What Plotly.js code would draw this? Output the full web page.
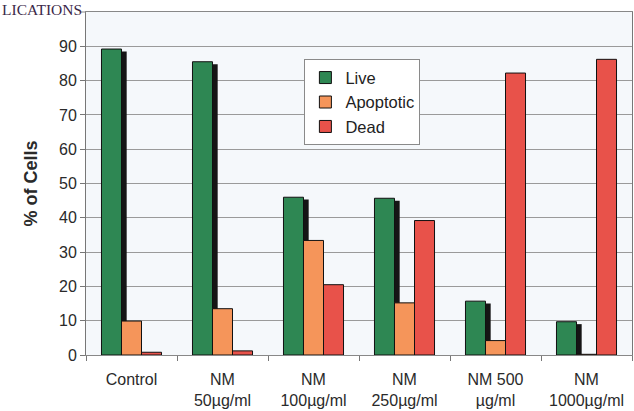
<!DOCTYPE html>
<html>
<head>
<meta charset="utf-8">
<script src="https://cdn.plot.ly/plotly-3.0.1.min.js"></script>
<style>html,body{margin:0;padding:0;background:#fff;}#chart{width:634px;height:411px;}</style>
</head>
<body>
<div id="chart"></div>
<script>
var categories = ["Control", "NM<br>50µg/ml", "NM<br>100µg/ml", "NM<br>250µg/ml", "NM 500<br>µg/ml", "NM<br>1000µg/ml"];
var live = [89.2, 85.5, 46.0, 45.7, 15.7, 9.7];
var apoptotic = [9.9, 13.5, 33.4, 15.2, 4.2, 0.2];
var dead = [0.8, 1.2, 20.5, 39.2, 82.2, 86.2];
var seriesNames = ["Live", "Apoptotic", "Dead"];
var yTicks = [0, 10, 20, 30, 40, 50, 60, 70, 80, 90];

var W = 0.22;
var line = {color: "#111", width: 1};
var traces = [
  {type: "bar", x: categories, y: live, base: -0.7, offset: -0.33 + 0.057, width: W,
   marker: {color: "#151515", line: {width: 0}}, showlegend: false, hoverinfo: "skip"},
  {type: "bar", name: seriesNames[0], x: categories, y: live, offset: -0.33, width: W,
   marker: {color: "#2e8753", line: line}},
  {type: "bar", name: seriesNames[1], x: categories, y: apoptotic, offset: -0.11, width: W,
   marker: {color: "#f5955a", line: line}},
  {type: "bar", name: seriesNames[2], x: categories, y: dead, offset: 0.11, width: W,
   marker: {color: "#e8524a", line: line}}
];

var layout = {
  width: 634, height: 411,
  margin: {l: 86, r: 2, t: 12, b: 56},
  paper_bgcolor: "#ffffff",
  plot_bgcolor: "#f5f8fb",
  barmode: "overlay",
  font: {family: "Liberation Sans, Arial, sans-serif", size: 15, color: "#2a2a2a"},
  showlegend: true,
  legend: {x: 0.4, y: 0.862, xanchor: "left", yanchor: "top",
           bgcolor: "#ffffff", bordercolor: "#8a8a8a", borderwidth: 1,
           font: {size: 16.5, color: "#222"}, traceorder: "normal",
           itemwidth: 30, tracegroupgap: 5},
  xaxis: {type: "category", tickson: "boundaries", ticks: "outside", ticklen: 5,
          tickcolor: "#777", showline: true, linecolor: "#888", linewidth: 1,
          mirror: true, showgrid: false, tickfont: {size: 16, color: "#2a2a2a"},
          ticklabelstandoff: 10, range: [-0.5, 5.5]},
  yaxis: {range: [0, 100], tickvals: yTicks, ticks: "outside", ticklen: 5,
          tickcolor: "#777", showline: true, linecolor: "#777", linewidth: 1,
          mirror: true, showgrid: true, gridcolor: "#9a9a9a", gridwidth: 1,
          zeroline: false, tickfont: {size: 16, color: "#2a2a2a"},
          title: {text: "<b>% of Cells</b>", font: {size: 18, color: "#2a2a2a"}, standoff: 16}},
  annotations: [
    {text: "LICATIONS", xref: "paper", yref: "paper", x: -0.158, y: 1.008,
     xanchor: "left", yanchor: "middle", showarrow: false,
     font: {family: "Liberation Serif, Times New Roman, serif", size: 15.5, color: "#3b2848"}}
  ],
  shapes: [
    {type: "line", xref: "paper", yref: "paper", x0: -0.012, x1: 0, y0: 1, y1: 1,
     line: {color: "#888", width: 1}}
  ]
};

Plotly.newPlot("chart", traces, layout, {displayModeBar: false, staticPlot: true});
</script>
</body>
</html>
